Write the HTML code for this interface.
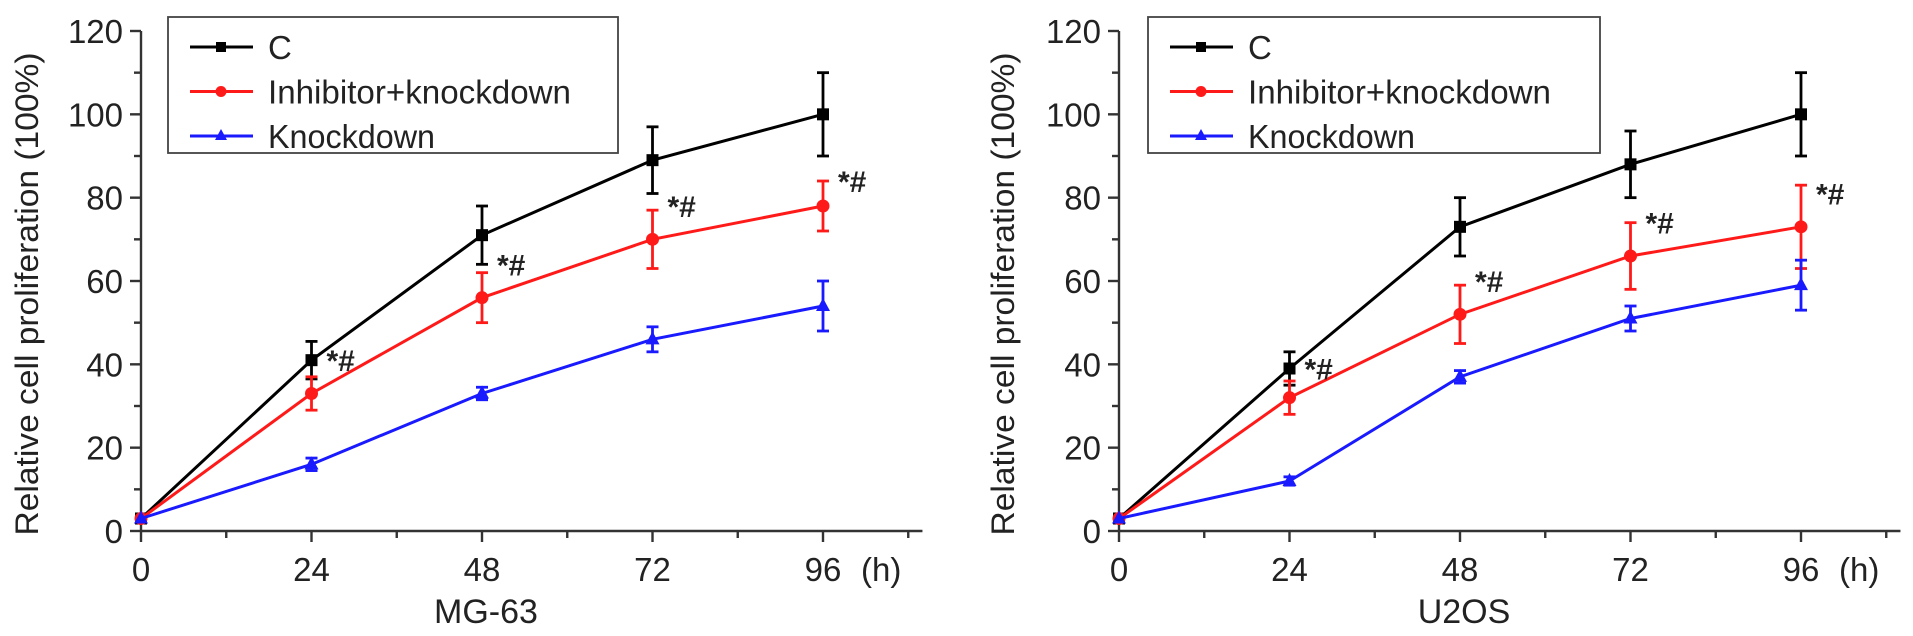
<!DOCTYPE html>
<html><head><meta charset="utf-8"><style>
html,body{margin:0;padding:0;background:#fff;}
svg{display:block;font-family:"Liberation Sans",Arial,sans-serif;}
</style></head><body>
<svg id="fig" width="1913" height="636" viewBox="0 0 1913 636" xmlns="http://www.w3.org/2000/svg"></svg>
<script>
const hours = [0, 24, 48, 72, 96];
const yTicks = [0, 20, 40, 60, 80, 100, 120];
const seriesNames = ["C", "Inhibitor+knockdown", "Knockdown"];
// MG-63
const mgC = [3, 41, 71, 89, 100];
const mgCErr = [0, 4.5, 7, 8, 10];
const mgIK = [3, 33, 56, 70, 78];
const mgIKErr = [0, 4, 6, 7, 6];
const mgK = [3, 16, 33, 46, 54];
const mgKErr = [0, 1.5, 1.5, 3, 6];
const mgStarVals = [41, 64, 78, 84];
// U2OS
const uC = [3, 39, 73, 88, 100];
const uCErr = [0, 4, 7, 8, 10];
const uIK = [3, 32, 52, 66, 73];
const uIKErr = [0, 4, 7, 8, 10];
const uK = [3, 12, 37, 51, 59];
const uKErr = [0, 1, 1.5, 3, 6];
const uStarVals = [39, 60, 74, 81];

const NS = "http://www.w3.org/2000/svg";
const svg = document.getElementById("fig");
function mk(tag, attrs, parent) {
  const e = document.createElementNS(NS, tag);
  for (const k in attrs) e.setAttribute(k, attrs[k]);
  (parent || svg).appendChild(e);
  return e;
}
function txt(str, x, y, size, anchor, parent, len) {
  const a = {x: x, y: y, "font-size": size, "text-anchor": anchor || "start", fill: "#222"};
  const t = mk("text", a, parent);
  if (len) { t.setAttribute("textLength", len); t.setAttribute("lengthAdjust", "spacingAndGlyphs"); }
  t.textContent = str;
  return t;
}
const colors = ["#000000", "#ff1a1a", "#1a1aff"];

function chart(opt) {
  const g = mk("g", {});
  
  
  const x0 = opt.x0, step = 170.5, yb = 531, ppu = 500 / 120;
  const X = h => x0 + h / 24 * step;
  const Y = v => yb - v * ppu;
  const axes = mk("g", {stroke: "#333", "stroke-width": 2.4, fill: "none"}, g);
  
  
  mk("line", {x1: x0, y1: yb, x2: X(110), y2: yb}, axes);
  mk("line", {x1: x0, y1: yb, x2: x0, y2: Y(120)}, axes);
  for (let v = 0; v <= 120; v += 10) {
    const major = v % 20 === 0;
    mk("line", {x1: x0 - (major ? 11 : 7), y1: Y(v), x2: x0, y2: Y(v)}, axes);
  }
  for (let h = 0; h <= 108; h += 12) {
    const major = h % 24 === 0;
    mk("line", {x1: X(h), y1: yb, x2: X(h), y2: yb + (major ? 11 : 7)}, axes);
  }
  yTicks.forEach(v => {
    const t = txt(String(v), x0 - 18, Y(v) + 12, 33, "end", g);
    
    
  });
  hours.forEach(h => {
    const t = txt(String(h), X(h), 581, 33, "middle", g);
    
    
  });
  const hu = txt("(h)", X(96) + 38, 581, 33, "start", g);
  
  
  const xt = txt(opt.title, (X(0) + X(96)) / 2 + 4, 623, 34, "middle", g);
  
  
  const yt = mk("text", {x: 0, y: 0, transform: `translate(${opt.ylx},294) rotate(-90)`, "font-size": 32, "text-anchor": "middle", fill: "#222", textLength: 483, lengthAdjust: "spacingAndGlyphs"}, g);
  yt.textContent = "Relative cell proliferation (100%)";
  
  

  const data = [[opt.c, opt.cErr], [opt.ik, opt.ikErr], [opt.k, opt.kErr]];
  data.forEach((d, si) => {
    const col = colors[si];
    const sg = mk("g", {}, g);
    
    
    const pts = hours.map((h, i) => X(h) + "," + Y(d[0][i])).join(" ");
    mk("polyline", {points: pts, fill: "none", stroke: col, "stroke-width": 3}, sg);
    hours.forEach((h, i) => {
      const e = d[1][i];
      if (e > 0) {
        const eb = mk("g", {stroke: col, "stroke-width": 2.8}, sg);
        
        
        mk("line", {x1: X(h), y1: Y(d[0][i] - e), x2: X(h), y2: Y(d[0][i] + e)}, eb);
        mk("line", {x1: X(h) - 6, y1: Y(d[0][i] - e), x2: X(h) + 6, y2: Y(d[0][i] - e)}, eb);
        mk("line", {x1: X(h) - 6, y1: Y(d[0][i] + e), x2: X(h) + 6, y2: Y(d[0][i] + e)}, eb);
      }
      let m;
      const cx = X(h), cy = Y(d[0][i]);
      if (si === 0) m = mk("rect", {x: cx - 6, y: cy - 6, width: 12, height: 12, fill: col}, sg);
      else if (si === 1) m = mk("circle", {cx: cx, cy: cy, r: 6.5, fill: col}, sg);
      else m = mk("polygon", {points: `${cx},${cy - 8} ${cx - 7},${cy + 5} ${cx + 7},${cy + 5}`, fill: col}, sg);
      
      
    });
  });
  opt.stars.forEach((v, i) => {
    const t = txt("*#", X(hours[i + 1]) + 15, Y(v) + 11, 30, "start", g);
    t.setAttribute("font-weight", "bold");
    
    
  });
  const lg = mk("g", {}, g);
  
  
  mk("rect", {x: opt.lx, y: 17, width: opt.lw, height: 136, fill: "#fff", stroke: "#444", "stroke-width": 1.8}, lg);
  const lens = [null, 303, 167];
  seriesNames.forEach((n, si) => {
    const ry = 47 + si * 44.5;
    const eg = mk("g", {}, lg);
    
    
    const lx = opt.lx + 22;
    mk("line", {x1: lx, y1: ry, x2: lx + 63, y2: ry, stroke: colors[si], "stroke-width": 3}, eg);
    const cx = lx + 31;
    if (si === 0) mk("rect", {x: cx - 5, y: ry - 5, width: 10, height: 10, fill: colors[si]}, eg);
    else if (si === 1) mk("circle", {cx: cx, cy: ry, r: 5.5, fill: colors[si]}, eg);
    else mk("polygon", {points: `${cx},${ry - 7} ${cx - 6},${ry + 4} ${cx + 6},${ry + 4}`, fill: colors[si]}, eg);
    txt(n, opt.lx + 100, ry + 12, 33, "start", eg, lens[si]);
  });
}

chart({name: "chart-mg63", x0: 141, title: "MG-63", ylx: 38, lx: 168, lw: 450,
  c: mgC, cErr: mgCErr, ik: mgIK, ikErr: mgIKErr, k: mgK, kErr: mgKErr, stars: mgStarVals});
chart({name: "chart-u2os", x0: 1119, title: "U2OS", ylx: 1014, lx: 1148, lw: 452,
  c: uC, cErr: uCErr, ik: uIK, ikErr: uIKErr, k: uK, kErr: uKErr, stars: uStarVals});
</script>
</body></html>
